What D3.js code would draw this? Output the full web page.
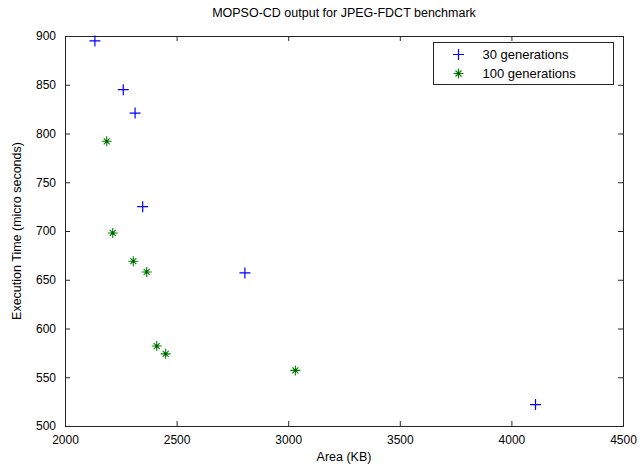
<!DOCTYPE html>
<html>
<head>
<meta charset="utf-8">
<script src="https://cdn.jsdelivr.net/npm/d3@7"></script>
<style>
  body { margin: 0; background: #fff; }
  text { font-family: "Liberation Sans", Arial, sans-serif; font-size: 12px; fill: #000; }
</style>
</head>
<body>
<div id="chart"></div>
<script>
// data
let gen30Area = [2134, 2261, 2314, 2348, 2806, 4108];
let gen30Time = [895, 845, 821, 725, 657, 522];
let gen100Area = [2187, 2214, 2306, 2366, 2411, 2451, 3032];
let gen100Time = [792, 698, 669, 658, 582, 574, 557];
let xTicks = [2000, 2500, 3000, 3500, 4000, 4500];
let yTicks = [500, 550, 600, 650, 700, 750, 800, 850, 900];
let seriesNames = ["30 generations", "100 generations"];

let width = 640, height = 466;
let pLeft = 65, pRight = 623, pTop = 36, pBottom = 426;

let svg = d3.select("#chart").append("svg")
    .attr("width", width)
    .attr("height", height);

let x = d3.scaleLinear().domain([2000, 4500]).range([pLeft, pRight]);
let y = d3.scaleLinear().domain([500, 900]).range([pBottom, pTop]);

let axisColor = "#262626";
let format = d3.format("d");

// ticks inside, on all four sides (matlab style)
let tl = 5;
function tickAxis(axis, tr) {
    let g = svg.append("g").attr("transform", tr).call(axis);
    g.select(".domain").remove();
    g.selectAll(".tick line").attr("stroke", axisColor);
    return g;
}
let gx = tickAxis(d3.axisBottom(x).tickValues(xTicks).tickSize(-tl).tickPadding(9).tickFormat(format), "translate(0," + pBottom + ")");
gx.selectAll("text").style("font-size", "12px").attr("fill", "#000");
tickAxis(d3.axisTop(x).tickValues(xTicks).tickSize(-tl).tickFormat(""), "translate(0," + pTop + ")");
let gy = tickAxis(d3.axisLeft(y).tickValues(yTicks).tickSize(-tl).tickPadding(9).tickFormat(format), "translate(" + pLeft + ",0)");
gy.selectAll("text").style("font-size", "12px").attr("fill", "#000");
tickAxis(d3.axisRight(y).tickValues(yTicks).tickSize(-tl).tickFormat(""), "translate(" + pRight + ",0)");

svg.append("rect")
    .attr("x", pLeft + 0.5).attr("y", pTop + 0.5)
    .attr("width", pRight - pLeft).attr("height", pBottom - pTop)
    .attr("fill", "none").attr("stroke", axisColor);

// markers
function plus(g, s) {
    g.append("path").attr("d", "M" + (-s) + ",0H" + s + "M0," + (-s) + "V" + s)
        .attr("stroke", "#0000ff").attr("stroke-width", 1.2).attr("fill", "none");
}
function star(g, s) {
    let d = s * 0.6;
    g.append("path").attr("d", "M" + (-s) + ",0H" + s + "M0," + (-s) + "V" + s +
            "M" + (-d) + "," + (-d) + "L" + d + "," + d + "M" + (-d) + "," + d + "L" + d + "," + (-d))
        .attr("stroke", "#008000").attr("stroke-width", 1.1).attr("fill", "none");
    g.append("circle").attr("r", 1.6).attr("fill", "#006400");
}

svg.selectAll(".p30")
    .data(gen30Area.map((a, i) => [a, gen30Time[i]]))
    .enter().append("g")
    .attr("class", "p30")
    .attr("transform", d => "translate(" + x(d[0]) + "," + y(d[1]) + ")")
    .each(function() { plus(d3.select(this), 5.5); });

svg.selectAll(".p100")
    .data(gen100Area.map((a, i) => [a, gen100Time[i]]))
    .enter().append("g")
    .attr("class", "p100")
    .attr("transform", d => "translate(" + x(d[0]) + "," + y(d[1]) + ")")
    .each(function() { star(d3.select(this), 5); });

// legend
let lg = svg.append("g").attr("transform", "translate(433.5,42.5)");
lg.append("rect").attr("width", 180).attr("height", 42)
    .attr("fill", "#fff").attr("stroke", axisColor);
seriesNames.forEach((n, i) => {
    let row = lg.append("g").attr("transform", "translate(25," + (12 + i * 19) + ")");
    if (i == 0) plus(row, 5.5); else star(row, 5);
    lg.append("text").attr("x", 49).attr("y", 12 + i * 19).attr("dy", "0.35em")
        .style("font-size", "13px").text(n);
});

// titles
svg.append("text").attr("x", (pLeft + pRight) / 2).attr("y", 17)
    .attr("text-anchor", "middle").style("font-size", "12.5px")
    .text("MOPSO-CD output for JPEG-FDCT benchmark");
svg.append("text").attr("x", (pLeft + pRight) / 2).attr("y", 461)
    .attr("text-anchor", "middle").style("font-size", "12.5px").text("Area (KB)");
svg.append("text")
    .attr("transform", "translate(21," + ((pTop + pBottom) / 2) + ") rotate(-90)")
    .attr("text-anchor", "middle").style("font-size", "12.5px")
    .text("Execution Time (micro seconds)");
</script>
</body>
</html>
